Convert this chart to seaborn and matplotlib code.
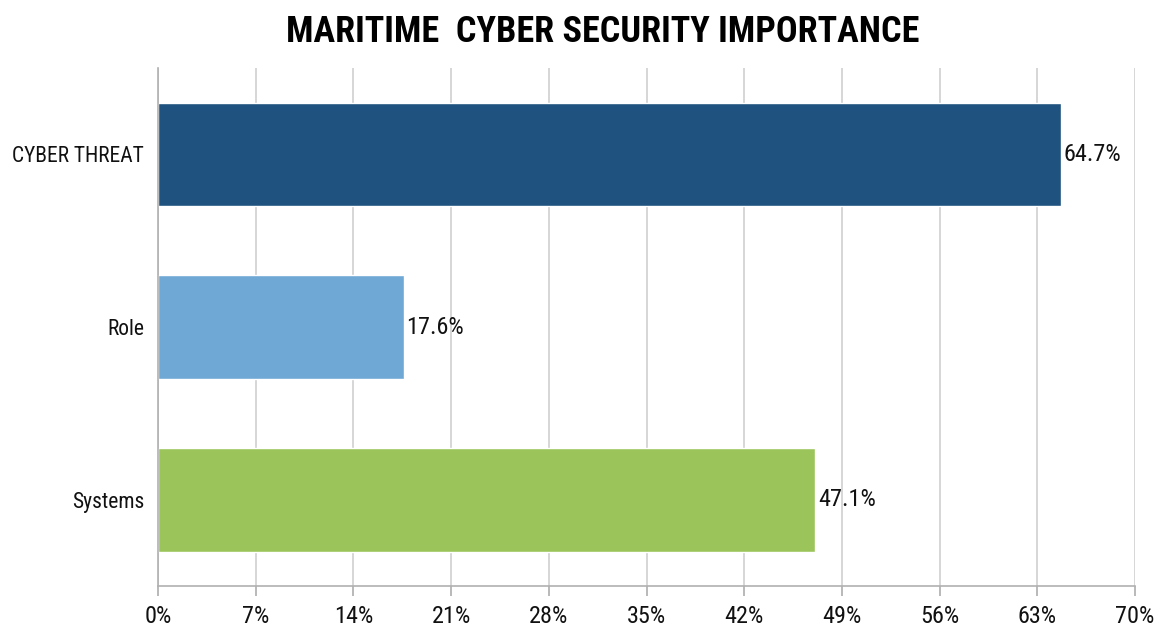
import matplotlib
import matplotlib.pyplot as plt
import seaborn as sns
import pandas as pd
from matplotlib.ticker import FuncFormatter

matplotlib.use('Agg')

categories = ["CYBER THREAT", "Role", "Systems"]
values = [64.7, 17.6, 47.1]
colors = ["#1F527F", "#6FA7D5", "#9BC55B"]
x_ticks = [0, 7, 14, 21, 28, 35, 42, 49, 56, 63, 70]

sns.set_theme(style="white")
plt.rcParams['font.family'] = ['Roboto Condensed', 'Open Sans Condensed',
                               'Liberation Sans Narrow', 'Roboto', 'DejaVu Sans']

df = pd.DataFrame({"category": categories, "value": values})

fig = plt.figure(figsize=(11.66, 6.3), dpi=100)
ax = fig.add_axes([0.1355, 0.0698, 0.838, 0.822])

sns.barplot(data=df, x="value", y="category", hue="category", palette=colors,
            width=0.6, legend=False, ax=ax, saturation=1)

# value labels at bar ends
for i, v in enumerate(values):
    ax.text(v + 0.2, i, f"{v}%", va="center", ha="left", fontsize=17.5, color="#111111")

ax.set_xlim(0, 70)
ax.set_ylim(2.5, -0.5)
ax.set_xticks(x_ticks)
ax.xaxis.set_major_formatter(FuncFormatter(lambda x, p: f"{int(x)}%"))
ax.grid(axis="x", color="#d0d0d0", linewidth=1.2)
ax.set_axisbelow(True)
ax.set_xlabel("")
ax.set_ylabel("")

for s in ["top", "right"]:
    ax.spines[s].set_visible(False)
ax.spines["left"].set_color("#b0b0b0")
ax.spines["bottom"].set_color("#b0b0b0")
ax.spines["left"].set_linewidth(1.2)
ax.spines["bottom"].set_linewidth(1.2)

ax.tick_params(axis="x", bottom=True, length=7, color="#b0b0b0", labelsize=17.5,
               labelcolor="#111111", pad=7)
ax.tick_params(axis="y", left=False, labelsize=15.5, labelcolor="#111111", pad=4)

fig.suptitle("MARITIME  CYBER SECURITY IMPORTANCE", x=0.517, y=0.978,
             fontsize=26, fontweight="bold", va="top", color="#000000")

fig.savefig("out.png", dpi=100)
